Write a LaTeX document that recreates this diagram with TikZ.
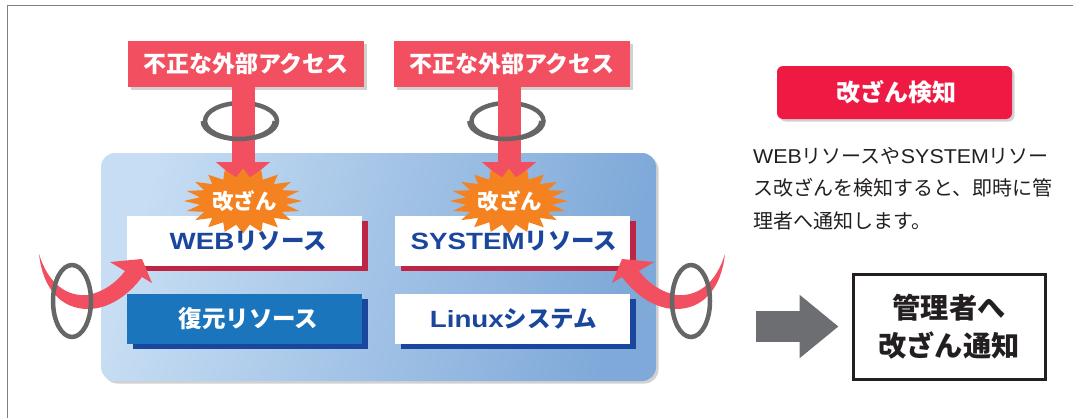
\documentclass[tikz,border=0pt]{standalone}
\usepackage{fontspec}
\setmainfont{Noto Sans CJK JP}
\newfontfamily\latinface{Liberation Sans}[FakeStretch=1.07]
\newfontfamily\latinwide{Liberation Sans}[FakeStretch=1.18]
\usetikzlibrary{arrows.meta, positioning, shadows, shapes.geometric}

\definecolor{alertred}{HTML}{F25060}
\definecolor{deepred}{HTML}{EE1A43}
\definecolor{crimson}{HTML}{BE2444}
\definecolor{navy}{HTML}{1A479D}
\definecolor{midblue}{HTML}{1A75BD}
\definecolor{burstorange}{HTML}{F58220}
\definecolor{ringgray}{HTML}{666666}
\definecolor{arrowgray}{HTML}{6D6E71}
\definecolor{inkblack}{HTML}{231F20}
\definecolor{panellight}{HTML}{C6DDF3}
\definecolor{paneldark}{HTML}{7FA9D9}

\tikzset{
	softshadow/.style = {drop shadow = {shadow xshift = 2.5pt, shadow yshift = -2.5pt, fill = black, opacity = .18}},
	hardshadow/.style = {drop shadow = {shadow xshift = 6pt, shadow yshift = -5pt, fill = #1, opacity = 1}},
	accessbox/.style = {fill = alertred, text = white, minimum width = 236pt, minimum height = 46pt, inner sep = 0pt, outer sep = 0pt, font = \fontsize{23}{23}\selectfont\bfseries, softshadow},
	resbox/.style = {fill = white, text = navy, minimum width = 235pt, minimum height = 50pt, inner sep = 0pt, outer sep = 0pt, font = \fontsize{23.5}{23.5}\selectfont\bfseries},
	burstmark/.style = {star, star points = 20, star point ratio = 1.36, fill = burstorange, minimum size = 65pt, inner sep = 0pt, xscale = 1.82, transform shape},
	bursttext/.style = {text = white, inner sep = 0pt, font = \fontsize{21.5}{21.5}\selectfont\bfseries},
	ringline/.style = {draw = ringgray, line width = 4.5pt},
	hitarrow/.style = {-{Triangle[width = 53pt, length = 23pt]}, line width = 23pt, draw = alertred, shorten > = 16pt},
}

\begin{document}
\begin{tikzpicture}[x = 1pt, y = -1pt]
	\useasboundingbox (0,0) rectangle (1073,418);
	\draw [gray, line width = 1.2pt] (1073,5.5) -- (7.5,5.5) -- (7.5,418);

	% panel and boxes
	\node (panel) [minimum width = 555pt, minimum height = 228pt, rounded corners = 14pt, outer sep = 0pt, left color = panellight, right color = paneldark, softshadow, shading angle = 75] at (378.5,267) {};
	\node (web) [resbox, hardshadow = crimson] at (244.5,241) {};
	\node (system) [resbox, hardshadow = crimson, right = 33pt of web] {};
	\node (restore) [resbox, fill = midblue, text = white, hardshadow = navy, below = 28pt of web] {\hspace*{8pt}復元リソース};
	\node (linux) [resbox, hardshadow = navy, below = 28pt of system] {\hspace*{2pt}{\latinwide Linux}システム};

	\node (access1) [accessbox] at (246,64) {不正な外部アクセス};
	\node (access2) [accessbox, right = 30pt of access1] {不正な外部アクセス};

	% the rings go behind the arrows, their lower half in front
	\node (ring1) [ellipse, ringline, minimum width = 72pt, minimum height = 36pt, inner sep = 0pt] at (241,121) {};
	\node (ring2) [ellipse, ringline, minimum width = 72pt, minimum height = 36pt, inner sep = 0pt] at (507.5,121) {};

	\coordinate (burst1) at (243,201);
	\coordinate (burst2) at (509,201);
	\draw [hitarrow] (burst1 |- access1.south) -- (burst1);
	\draw [hitarrow] (burst2 |- access2.south) -- (burst2);
	\draw [ringline] (ring1.west) arc [start angle = 180, end angle = 360, x radius = 36pt, y radius = 18pt];
	\draw [ringline] (ring2.west) arc [start angle = 180, end angle = 360, x radius = 36pt, y radius = 18pt];

	\node [burstmark] at (burst1) {};
	\node [burstmark] at (burst2) {};
	\node (burstlabel1) [bursttext] at (244.5,201) {改ざん};
	\node (burstlabel2) [bursttext] at (510,201) {改ざん};
	\node (weblabel) [text = navy, font = \fontsize{23.5}{23.5}\selectfont\bfseries, xshift = 4pt] at (web) {{\latinwide WEB}リソース};
	\node (systemlabel) [text = navy, font = \fontsize{23.5}{23.5}\selectfont\bfseries, xshift = 1.5pt] at (system) {{\latinwide SYSTEM}リソース};

	% curved arrows, side rings in front
	\coordinate (tail1) at (39,254);
	\coordinate (tail2) at (725,254);
	\fill [alertred] (tail1) .. controls (48,283) and (66,297) .. (88,295) .. controls (103,292) and (116,283) .. (125,271) -- (110,262) -- (142,259) -- (152,283) -- (142,277) .. controls (128,296) and (108,309) .. (88,309) .. controls (62,309) and (43,290) .. (tail1);
	\fill [alertred] (tail2) .. controls (716,283) and (698,297) .. (676,295) .. controls (661,292) and (648,283) .. (639,271) -- (654,262) -- (622,259) -- (612,283) -- (622,277) .. controls (636,296) and (656,309) .. (676,309) .. controls (702,309) and (721,290) .. (tail2);
	\node (ring3) [ellipse, ringline, minimum width = 38pt, minimum height = 72pt, inner sep = 0pt] at (72,301) {};
	\node (ring4) [ellipse, ringline, minimum width = 38pt, minimum height = 72pt, inner sep = 0pt] at (691,301) {};

	% right column
	\node (detect) [fill = deepred, text = white, rounded corners = 6pt, minimum width = 235pt, minimum height = 53pt, inner sep = 0pt, font = \fontsize{24}{24}\selectfont\bfseries, softshadow] at (894.5,92.5) {\hspace*{3pt}改ざん検知};
	\node (note) [anchor = north west, inner sep = 0pt, align = left, text = inkblack, font = \fontsize{20}{32.5}\selectfont] at (753,147) {{\latinface WEB}リソースや{\latinface SYSTEM}リソー\\ス改ざんを検知すると、即時に管\\理者へ通知します。};
	\node (notify) [draw = inkblack, line width = 3pt, text = inkblack, minimum width = 192pt, minimum height = 105pt, inner sep = 0pt, align = center, font = \fontsize{28.2}{38}\selectfont\bfseries] at (949,326.5) {管理者へ\\改ざん通知};
	\coordinate (notifyfrom) at (755.5,326.5);
	\draw [-{Triangle[width = 61pt, length = 39pt]}, line width = 31pt, draw = arrowgray, shorten > = 13pt] (notifyfrom) -- (notify.west);
\end{tikzpicture}
\end{document}
